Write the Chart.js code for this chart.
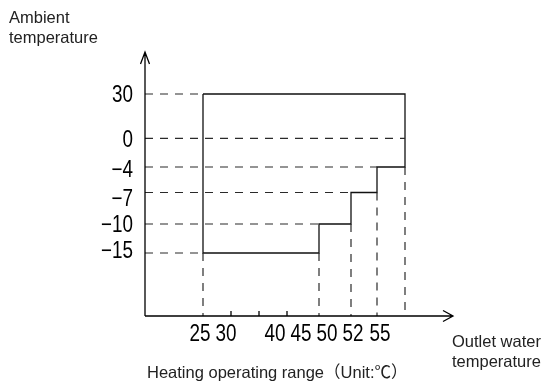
<!DOCTYPE html>
<html>
<head>
<meta charset="utf-8">
<script src="https://cdn.jsdelivr.net/npm/chart.js@4.4.0/dist/chart.umd.min.js"></script>
<style>
    html, body { margin: 0; padding: 0; background: #fff; }
    #wrap { width: 546px; height: 385px; }
</style>
</head>
<body>
<div id="wrap"><canvas id="range-chart"></canvas></div>
<script>
// Tick labels on both axes
const xTickValues = [25, 30, 40, 45, 50, 52, 55];
const xTickLabels = ['25', '30', '40', '45', '50', '52', '55'];
const yTickValues = [30, 0, -4, -7, -10, -15];
const yTickLabels = ['30', '0', '\u22124', '\u22127', '\u221210', '\u221215'];

// Operating envelope (outlet water vs ambient temperature)
const minOutlet = 25;
const maxAmbient = 30;
const ambientFloor = [-4, -7, -10, -15];   // lower ambient limit of each step
const outletMax = [60, 55, 52, 50];        // outlet limit of each step

// Axis ends (value at the origin and at the arrow tip)
const xRange = [20, 70];
const yRange = [-25, 40];

// The drawing is not to scale: each axis is piecewise, [value, px from origin]
const scaleKnots = {
    x: [[20, 0], [25, 58], [30, 86], [40, 114], [45, 142], [50, 174], [52, 206], [55, 232], [60, 260], [70, 308]],
    y: [[-25, 0], [-15, 63], [-10, 92], [-7, 123.5], [-4, 149], [0, 177.7], [30, 222], [40, 264]]
};
const xLabelShift = [-3, -5, 16, 14, 8, 2, 3];
const yLabelShift = [2, 2, 4, 7, 2, -1];

function interp(v, pts, from, to) {
    if (v <= pts[0][from]) return pts[0][to];
    for (let i = 1; i < pts.length; i++) {
        const a = pts[i - 1], b = pts[i];
        if (v <= b[from]) return a[to] + (v - a[from]) / (b[from] - a[from]) * (b[to] - a[to]);
    }
    return pts[pts.length - 1][to];
}

class PiecewiseScale extends Chart.LinearScale {
    static id = 'piecewise';
    static defaults = {};
    knotLength() {
        const k = scaleKnots[this.id];
        return k[k.length - 1][1];
    }
    getPixelForValue(value) {
        return this.getPixelForDecimal(interp(value, scaleKnots[this.id], 0, 1) / this.knotLength());
    }
    getValueForPixel(pixel) {
        return interp(this.getDecimalForPixel(pixel) * this.knotLength(), scaleKnots[this.id], 1, 0);
    }
}
Chart.register(PiecewiseScale);

// Solid outline of the envelope
const outline = [{x: minOutlet, y: maxAmbient}, {x: outletMax[0], y: maxAmbient}];
for (let i = 0; i < ambientFloor.length; i++) {
    outline.push({x: outletMax[i], y: ambientFloor[i]});
    outline.push({x: i + 1 < outletMax.length ? outletMax[i + 1] : minOutlet, y: ambientFloor[i]});
}
outline.push({x: minOutlet, y: maxAmbient});

// where a horizontal guide line meets the envelope
function edgeAt(t) {
    if (t >= maxAmbient) return minOutlet;
    for (let i = 0; i < ambientFloor.length; i++) {
        if (t > ambientFloor[i]) return outletMax[i];
    }
    return minOutlet;
}

const dashStyle = { borderColor: '#2a2a2a', borderWidth: 1.2, borderDash: [8, 7], pointRadius: 0, fill: false };
const datasets = [];
yTickValues.forEach(t => {
    datasets.push(Object.assign({ data: [{x: xRange[0], y: t}, {x: edgeAt(t), y: t}] }, dashStyle));
});
outletMax.concat([minOutlet]).forEach((o, i) => {
    const top = i < ambientFloor.length ? ambientFloor[i] : Math.min(...ambientFloor);
    datasets.push(Object.assign({ data: [{x: o, y: top}, {x: o, y: yRange[0]}] }, dashStyle));
});
datasets.push({ data: outline, borderColor: '#111', borderWidth: 1.3, pointRadius: 0, fill: false });

const bodyFont = '16.5px "Liberation Sans", "Noto Sans CJK SC", sans-serif';
const tickFont = '23px "Liberation Sans", sans-serif';

function narrowText(ctx, text, x, y, align) {
    ctx.save();
    ctx.translate(x, y);
    ctx.scale(0.82, 1);
    ctx.textAlign = align;
    ctx.fillText(text, 0, 0);
    ctx.restore();
}

// Axes with arrows, tick labels and captions
const axesPlugin = {
    id: 'rangeAxes',
    afterDatasetsDraw(chart) {
        const {ctx, chartArea: a, scales: {x, y}} = chart;
        ctx.save();
        ctx.strokeStyle = '#000';
        ctx.lineWidth = 1.3;
        ctx.beginPath();
        ctx.moveTo(a.left, a.bottom); ctx.lineTo(a.right, a.bottom);
        ctx.moveTo(a.left, a.bottom); ctx.lineTo(a.left, a.top);
        ctx.moveTo(a.right - 10, a.bottom - 5.5); ctx.lineTo(a.right, a.bottom); ctx.lineTo(a.right - 10, a.bottom + 5.5);
        ctx.moveTo(a.left - 4.5, a.top + 12); ctx.lineTo(a.left, a.top); ctx.lineTo(a.left + 4.5, a.top + 12);
        // small ticks where no guide line reaches the axis
        const guides = outletMax.concat([minOutlet]);
        xTickValues.forEach(v => {
            if (guides.indexOf(v) < 0) {
                const px = x.getPixelForValue(v);
                ctx.moveTo(px, a.bottom); ctx.lineTo(px, a.bottom - 5);
            }
        });
        ctx.stroke();

        ctx.fillStyle = '#000';
        ctx.font = tickFont;
        ctx.textBaseline = 'alphabetic';
        xTickValues.forEach((v, i) => {
            narrowText(ctx, xTickLabels[i], x.getPixelForValue(v) + xLabelShift[i], a.bottom + 25, 'center');
        });
        ctx.textBaseline = 'middle';
        yTickValues.forEach((v, i) => {
            narrowText(ctx, yTickLabels[i], a.left - 12, y.getPixelForValue(v) + yLabelShift[i], 'right');
        });

        ctx.fillStyle = '#222';
        ctx.font = bodyFont;
        ctx.textBaseline = 'alphabetic';
        ctx.textAlign = 'left';
        ctx.fillText('Ambient', 9, 23);
        ctx.fillText('temperature', 9, 43);
        ctx.fillText('Outlet water', a.right - 1, a.bottom + 31);
        ctx.fillText('temperature', a.right - 1, a.bottom + 51);
        ctx.fillText('Heating operating range\uFF08Unit:\u2103\uFF09', 147, a.bottom + 62);
        ctx.restore();
    }
};

new Chart(document.getElementById('range-chart'), {
    type: 'line',
    data: { datasets: datasets },
    options: {
        responsive: true,
        maintainAspectRatio: false,
        animation: false,
        events: [],
        layout: { padding: { left: 145, right: 93, top: 52, bottom: 69 } },
        plugins: { legend: { display: false }, tooltip: { enabled: false } },
        scales: {
            x: { type: 'piecewise', min: xRange[0], max: xRange[1], display: false },
            y: { type: 'piecewise', min: yRange[0], max: yRange[1], display: false }
        }
    },
    plugins: [axesPlugin]
});
</script>
</body>
</html>
